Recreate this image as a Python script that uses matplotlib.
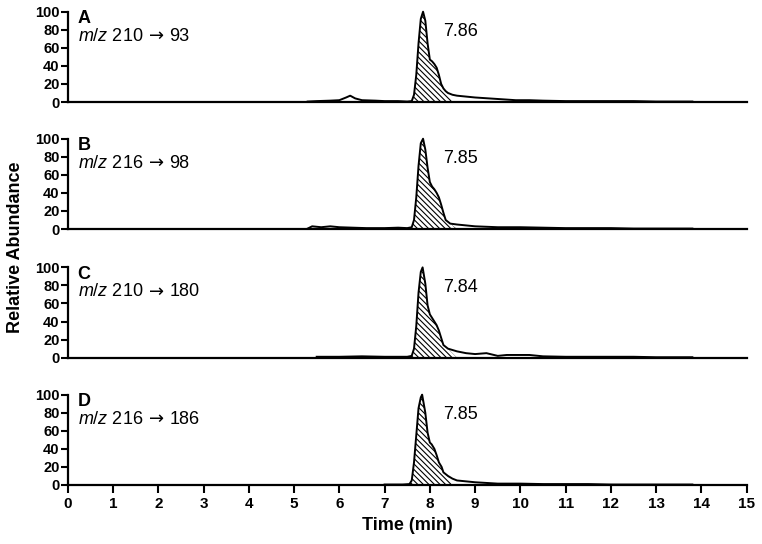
import matplotlib
matplotlib.use("Agg")
import matplotlib.pyplot as plt

plt.rcParams['font.family'] = ['Liberation Sans', 'DejaVu Sans']
plt.rcParams['mathtext.fontset'] = 'custom'
plt.rcParams['mathtext.it'] = 'Liberation Sans:italic'
plt.rcParams['mathtext.rm'] = 'Liberation Sans'
plt.rcParams['hatch.linewidth'] = 0.8

# chromatogram traces (time in min, relative abundance %)
time_a = [5.3, 5.5, 5.8, 6.0, 6.15, 6.24, 6.35, 6.5, 6.8, 7.0, 7.3, 7.5, 7.6, 7.65, 7.7, 7.75,
          7.8, 7.85, 7.9, 7.95, 8.0, 8.05, 8.1, 8.15, 8.2, 8.25, 8.3, 8.35, 8.4, 8.5, 8.6, 8.8,
          9.0, 9.3, 9.6, 9.9, 10.2, 10.5, 11.0, 11.5, 12.0, 12.5, 13.0, 13.8]
abund_a = [0.5, 1, 1.5, 2, 5, 7, 4, 2, 1.5, 1, 1, 0.5, 1, 8, 30, 65,
           92, 100, 90, 65, 47, 45, 42, 38, 30, 20, 15, 12, 10, 8, 7, 6,
           5, 4, 3, 2, 2, 1.5, 1, 1, 1, 1, 0.5, 0.5]

time_b = [5.3, 5.4, 5.6, 5.8, 6.0, 6.3, 6.6, 7.0, 7.3, 7.5, 7.6, 7.65, 7.7, 7.75, 7.8, 7.85,
          7.9, 7.95, 8.0, 8.05, 8.1, 8.15, 8.2, 8.25, 8.3, 8.35, 8.45, 8.6, 8.8, 9.0, 9.5,
          10.0, 10.5, 11.0, 11.5, 12.0, 12.5, 13.0, 13.8]
abund_b = [0.5, 3, 2, 3, 2, 1.5, 1, 1, 1.5, 1, 2, 10, 35, 70, 95, 100,
           88, 68, 52, 47, 44, 40, 35, 27, 18, 10, 6, 5, 4, 3, 2,
           2, 1.5, 1, 1, 1, 0.5, 0.5, 0.5]

time_c = [5.5, 6.0, 6.5, 7.0, 7.3, 7.5, 7.6, 7.65, 7.7, 7.75, 7.8, 7.84, 7.9, 7.95, 8.0,
          8.05, 8.1, 8.15, 8.2, 8.25, 8.3, 8.4, 8.6, 8.8, 9.0, 9.25, 9.5, 9.7, 9.9, 10.2,
          10.5, 11.0, 11.5, 12.0, 12.5, 13.0, 13.8]
abund_c = [1, 1, 1.5, 1, 1, 1, 2, 10, 35, 72, 95, 100, 82, 58, 48,
           44, 40, 36, 30, 22, 14, 10, 7, 5, 4, 5, 2, 3, 3, 3,
           1.5, 1, 1, 1, 1, 0.5, 0.5]

time_d = [7.0, 7.4, 7.55, 7.6, 7.65, 7.7, 7.75, 7.8, 7.83, 7.9, 7.95, 8.0, 8.04, 8.1, 8.15,
          8.2, 8.26, 8.3, 8.4, 8.5, 8.6, 8.8, 9.0, 9.5, 10.0, 10.5, 11.0, 11.5, 12.0, 12.5,
          13.0, 13.8]
abund_d = [0.5, 0.5, 1, 5, 25, 55, 85, 97, 100, 80, 58, 47, 45, 40, 33,
           25, 20, 14, 10, 7, 5, 4, 3, 1.5, 1.5, 1, 1, 1, 0.5, 0.5,
           0.5, 0.5]

traces = [(time_a, abund_a), (time_b, abund_b), (time_c, abund_c), (time_d, abund_d)]
panel_labels = ['A', 'B', 'C', 'D']
precursors = ['210', '216', '210', '216']
products = ['93', '98', '180', '186']
peak_times = ['7.86', '7.85', '7.84', '7.85']
hatch_ranges = [(7.6, 8.4), (7.6, 8.45), (7.6, 8.4), (7.55, 8.4)]

x_ticks = list(range(0, 16))
y_ticks = [0, 20, 40, 60, 80, 100]

fig = plt.figure(figsize=(7.62, 5.44), dpi=100)
bottoms = [0.8125, 0.579, 0.3425, 0.1085]

for i, (t, a) in enumerate(traces):
    ax = fig.add_axes([0.0889, bottoms[i], 0.891, 0.166])
    ax.plot(t, a, color='black', lw=1.4, clip_on=False)
    lo, hi = hatch_ranges[i]
    ax.fill_between(t, 0, a, where=[lo <= v <= hi for v in t], facecolor='white',
                    edgecolor='black', hatch='\\' * 6, lw=0, interpolate=True)
    ax.set_xlim(0, 15)
    ax.set_ylim(0, 100)
    for s in ['top', 'right']:
        ax.spines[s].set_visible(False)
    ax.spines['left'].set_linewidth(1.6)
    ax.spines['bottom'].set_linewidth(1.6)
    ax.set_yticks(y_ticks)
    ax.set_xticks(x_ticks)
    ax.tick_params(axis='both', direction='out', length=5, width=1.5, labelsize=10.5, pad=1)
    for lab in ax.get_yticklabels():
        lab.set_fontweight('bold')
    if i < 3:
        ax.tick_params(axis='x', bottom=False, labelbottom=False)
    else:
        ax.tick_params(axis='x', length=6, labelsize=11, pad=3)
        for lab in ax.get_xticklabels():
            lab.set_fontweight('bold')
        ax.set_xlabel('Time (min)', fontsize=13, fontweight='bold', labelpad=4)
    ax.text(0.22, 102, panel_labels[i], fontsize=13, fontweight='bold', va='top')
    # transition label: italic m/z, then a DejaVu arrow, then product ion
    t1 = ax.text(0.22, 73, r'$m/z$ ' + precursors[i], fontsize=13, va='center')
    t2 = ax.annotate('→', xy=(1, 0.5), xycoords=t1, xytext=(4, 0), textcoords='offset points',
                     fontsize=13, va='center', family='DejaVu Sans')
    ax.annotate(products[i], xy=(1, 0.5), xycoords=t2, xytext=(4, 0), textcoords='offset points',
                fontsize=13, va='center')
    ax.text(8.3, 78, peak_times[i], fontsize=13, va='center')

fig.text(0.02, 0.545, 'Relative Abundance', rotation=90, fontsize=13, fontweight='bold',
         ha='center', va='center')

fig.savefig('out.png', dpi=100)
